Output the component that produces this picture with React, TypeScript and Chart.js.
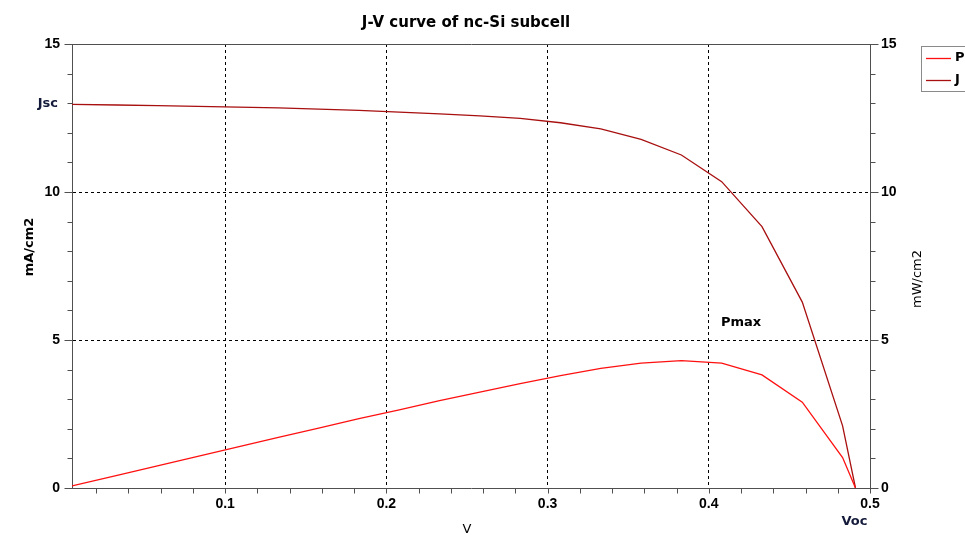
import React, { useEffect, useRef } from "react";
import { Chart, registerables } from "chart.js";

Chart.register(...registerables);

// ---- data ----
const V_VALUES = [0.005, 0.033, 0.058, 0.083, 0.108, 0.133, 0.158, 0.183, 0.208, 0.233, 0.258, 0.283, 0.308, 0.333, 0.358, 0.383, 0.408, 0.433, 0.458, 0.483, 0.491];
const J_VALUES = [12.96, 12.94, 12.92, 12.89, 12.87, 12.84, 12.8, 12.76, 12.7, 12.64, 12.57, 12.49, 12.34, 12.13, 11.78, 11.25, 10.35, 8.83, 6.28, 2.1, 0];
const P_VALUES = [0.07, 0.43, 0.75, 1.07, 1.39, 1.71, 2.02, 2.34, 2.64, 2.95, 3.24, 3.53, 3.8, 4.04, 4.22, 4.3, 4.22, 3.82, 2.9, 1.03, 0];

const X_TICKS = [0.1, 0.2, 0.3, 0.4, 0.5];
const X_MINOR = [0.02, 0.04, 0.06, 0.08, 0.1, 0.12, 0.14, 0.16, 0.18, 0.2, 0.22, 0.24, 0.26, 0.28, 0.3, 0.32, 0.34, 0.36, 0.38, 0.4, 0.42, 0.44, 0.46, 0.48, 0.5];
const Y_TICKS = [0, 5, 10, 15];
const Y_MINOR = [1, 2, 3, 4, 6, 7, 8, 9, 11, 12, 13, 14];

const X_MIN = 0.005;
const X_MAX = 0.5;
const Y_MIN = 0;
const Y_MAX = 15;
const PMAX_LABEL_AT = { x: 0.4075, y: 5.6 };

const TITLE = "J-V curve of nc-Si subcell";
const SERIES_NAMES = ["P", "J"];

const COLOR_P = "#ff1010";
const COLOR_J = "#a80f0f";
const AXIS_COLOR = "#505050";

const decor = {
  id: "decor",
  afterDraw(chart: any) {
    const { ctx, chartArea } = chart;
    const { left, right, top, bottom } = chartArea;
    const x = chart.scales.x;
    const y = chart.scales.y;
    const y1 = chart.scales.y1;
    ctx.save();
    ctx.strokeStyle = AXIS_COLOR;
    ctx.lineWidth = 1;
    ctx.setLineDash([]);
    const seg = (x1: number, yA: number, x2: number, yB: number) => {
      ctx.beginPath();
      ctx.moveTo(x1, yA);
      ctx.lineTo(x2, yB);
      ctx.stroke();
    };
    const L = Math.round(left) + 0.5;
    const R = Math.round(right) + 0.5;
    const B = Math.round(bottom) + 0.5;
    const T = Math.round(top) + 0.5;
    // top frame line
    seg(L, T, R, T);
    // y ticks
    Y_MINOR.forEach((v) => {
      const py = Math.round(y.getPixelForValue(v)) + 0.5;
      seg(L - 5, py, L, py);
      const py1 = Math.round(y1.getPixelForValue(v)) + 0.5;
      seg(R, py1, R + 5, py1);
    });
    Y_TICKS.forEach((v) => {
      const py = Math.round(y.getPixelForValue(v)) + 0.5;
      seg(L - 8, py, L, py);
      const py1 = Math.round(y1.getPixelForValue(v)) + 0.5;
      seg(R, py1, R + 8, py1);
    });
    X_MINOR.forEach((v) => {
      const px = Math.round(x.getPixelForValue(v)) + 0.5;
      seg(px, B, px, B + 5);
    });

    ctx.fillStyle = "#000";
    ctx.textBaseline = "middle";
    // title
    ctx.font = 'bold 15px "DejaVu Sans"';
    ctx.textAlign = "center";
    ctx.fillText(TITLE, 466, 23);

    // Jsc / Voc / Pmax
    ctx.font = 'bold 13px "DejaVu Sans"';
    ctx.fillStyle = "#141a3a";
    ctx.textAlign = "right";
    ctx.fillText("Jsc", 58, y.getPixelForValue(J_VALUES[0]) - 1);
    ctx.textAlign = "center";
    ctx.fillText("Voc", x.getPixelForValue(V_VALUES[V_VALUES.length - 1]) - 1, 522);
    ctx.fillStyle = "#000";
    ctx.textAlign = "left";
    ctx.fillText("Pmax", x.getPixelForValue(PMAX_LABEL_AT.x), y.getPixelForValue(PMAX_LABEL_AT.y));

    // axis titles
    ctx.save();
    ctx.translate(30, 247);
    ctx.rotate(-Math.PI / 2);
    ctx.textAlign = "center";
    ctx.font = 'bold 13px "DejaVu Sans"';
    ctx.fillText("mA/cm2", 0, 0);
    ctx.restore();

    ctx.save();
    ctx.translate(918, 279);
    ctx.rotate(-Math.PI / 2);
    ctx.textAlign = "center";
    ctx.font = '13px "DejaVu Sans"';
    ctx.fillText("mW/cm2", 0, 0);
    ctx.restore();

    ctx.textAlign = "center";
    ctx.font = '13px "DejaVu Sans"';
    ctx.fillText("V", 467, 530);

    // legend
    ctx.strokeStyle = "#8a8a8a";
    ctx.lineWidth = 1;
    ctx.strokeRect(921.5, 46.5, 60, 45);
    const colors = [COLOR_P, COLOR_J];
    const rows = [58, 80];
    ctx.font = 'bold 13px "DejaVu Sans"';
    ctx.textAlign = "left";
    SERIES_NAMES.forEach((name, i) => {
      ctx.strokeStyle = colors[i];
      ctx.lineWidth = 1.3;
      seg(926, rows[i] + 0.5, 951, rows[i] + 0.5);
      ctx.fillStyle = "#000";
      ctx.fillText(name, 955, rows[i]);
    });
    ctx.restore();
  },
};

export default function App() {
  const ref = useRef<HTMLCanvasElement | null>(null);
  useEffect(() => {
    if (!ref.current) return;
    const tickFont = { family: '"Liberation Sans"', size: 14, weight: "bold" as const };
    const chart = new Chart(ref.current, {
      type: "line",
      data: {
        datasets: [
          {
            label: SERIES_NAMES[0],
            data: V_VALUES.map((v, i) => ({ x: v, y: P_VALUES[i] })),
            borderColor: COLOR_P,
            borderWidth: 1.3,
            pointRadius: 0,
            tension: 0,
            yAxisID: "y1",
          },
          {
            label: SERIES_NAMES[1],
            data: V_VALUES.map((v, i) => ({ x: v, y: J_VALUES[i] })),
            borderColor: COLOR_J,
            borderWidth: 1.3,
            pointRadius: 0,
            tension: 0,
            yAxisID: "y",
          },
        ],
      },
      options: {
        responsive: false,
        animation: false,
        layout: { padding: { top: 44, left: 0, right: 0, bottom: 0 } },
        plugins: { legend: { display: false }, title: { display: false }, tooltip: { enabled: false } },
        scales: {
          x: {
            type: "linear",
            position: "bottom",
            min: X_MIN,
            max: X_MAX,
            afterBuildTicks: (s: any) => {
              s.ticks = X_TICKS.map((v) => ({ value: v }));
            },
            afterFit: (s: any) => {
              s.height = 48;
            },
            grid: {
              drawTicks: false,
              lineWidth: 1,
              color: (c: any) => (c.tick && c.tick.value < X_MAX - 1e-9 ? "#000" : "rgba(0,0,0,0)"),
            },
            border: { display: true, color: AXIS_COLOR, width: 1, dash: [3, 3] },
            ticks: {
              padding: 8,
              color: "#000",
              font: tickFont,
              maxRotation: 0,
              autoSkip: false,
              callback: (v: any) => Number(v).toFixed(1),
            },
          },
          y: {
            type: "linear",
            position: "left",
            min: Y_MIN,
            max: Y_MAX,
            afterBuildTicks: (s: any) => {
              s.ticks = Y_TICKS.map((v) => ({ value: v }));
            },
            afterFit: (s: any) => {
              s.width = 72;
            },
            grid: {
              drawTicks: false,
              lineWidth: 1,
              color: (c: any) => (c.tick && c.tick.value > Y_MIN && c.tick.value < Y_MAX ? "#000" : "rgba(0,0,0,0)"),
            },
            border: { display: true, color: AXIS_COLOR, width: 1, dash: [3, 3] },
            ticks: { padding: 12, color: "#000", font: tickFont, autoSkip: false, callback: (v: any) => String(v) },
          },
          y1: {
            type: "linear",
            position: "right",
            min: Y_MIN,
            max: Y_MAX,
            afterBuildTicks: (s: any) => {
              s.ticks = Y_TICKS.map((v) => ({ value: v }));
            },
            afterFit: (s: any) => {
              s.width = 95;
            },
            grid: { drawOnChartArea: false, drawTicks: false },
            border: { display: true, color: AXIS_COLOR, width: 1 },
            ticks: { padding: 11, color: "#000", font: tickFont, autoSkip: false, callback: (v: any) => String(v) },
          },
        },
      },
      plugins: [decor],
    } as any);
    return () => chart.destroy();
  }, []);
  return (
    <div style={{ position: "absolute", left: 0, top: 0, width: 965, height: 536, background: "#fff" }}>
      <canvas ref={ref} width={965} height={536} style={{ display: "block" }} />
    </div>
  );
}
